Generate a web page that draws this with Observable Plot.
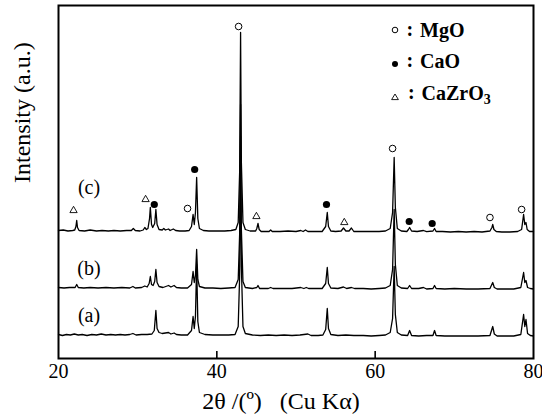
<!DOCTYPE html>
<html><head><meta charset="utf-8">
<script src="https://cdn.jsdelivr.net/npm/d3@7"></script>
<script src="https://cdn.jsdelivr.net/npm/@observablehq/plot@0.6"></script>
</head><body style="margin:0;padding:0;background:#fff">
<div id="wrap" style="position:relative;width:542px;height:420px;font-family:'Liberation Serif',serif;"></div>
<script>
// ---- data ----
const xTicks = [20, 40, 60, 80];
const innerTicks = [40, 60];
const traceNames = ["(a)", "(b)", "(c)"];
const traceOffsets = [22, 69, 126];

const traceA = [[20,2],[20.5,1],[21,2],[21.5,1.5],[22,2.5],[22.5,1.5],[23,2],[23.6,1],[24.2,2],[24.8,1.5],[25.4,2.5],[26,1.5],[26.6,2],[27.2,1.5],[27.8,2],[28.4,1.5],[29,2],[29.4,3],[29.8,1.5],[30.5,2],[31.2,2],[31.8,2.5],[32.1,6],[32.3,26],[32.45,8],[32.7,4],[33.1,3],[33.5,3.5],[33.9,4],[34.2,2.5],[34.6,3.5],[34.9,2],[35.5,1.5],[36.3,1.5],[36.8,6],[37,20],[37.15,8],[37.3,20],[37.45,72],[37.6,15],[37.8,4],[38.5,2],[39.5,1.5],[40.5,1.5],[41.5,1.5],[42.3,2],[42.7,10],[42.88,60],[43,200],[43.1,70],[43.3,10],[43.6,3],[44.5,1.5],[45.5,1],[46.5,1.5],[47.5,1],[48.5,1.5],[49.5,1],[50.5,1.5],[51.5,2.5],[51.9,1],[52.8,1],[53.4,1.5],[53.75,7],[53.95,28],[54.1,8],[54.4,2],[55.3,1],[56.3,1.5],[57.3,1],[58.5,1],[59.5,0.5],[60.5,1],[61.3,1.5],[61.9,4],[62.2,18],[62.4,70],[62.55,22],[62.8,4],[63.3,1.5],[64.1,1],[64.35,6],[64.6,1],[65.5,0.5],[66.5,1],[67.3,1],[67.5,6],[67.7,1],[68.8,0.5],[70,0.5],[71.5,0.5],[73,0.5],[74.5,1],[74.85,10],[75.05,2.5],[75.4,0.5],[76.5,0.5],[77.5,0.5],[78.4,2],[78.75,22],[78.9,10],[79.05,17],[79.25,3],[79.6,1],[80,0.5]];

const traceB = [[20,2],[20.7,1.5],[21.4,2],[22.1,2],[22.3,5],[22.5,2],[23.2,1.5],[24,2],[25,1.5],[26,2],[27,1.5],[28,2],[29,1.5],[29.4,3],[29.7,1.5],[30.5,2],[30.9,3.5],[31.2,2.5],[31.45,6],[31.6,13],[31.75,5],[31.95,4],[32.15,8],[32.3,20],[32.45,7],[32.7,3],[33.2,2],[33.9,4],[34.2,2.5],[34.6,4],[34.9,2],[35.5,1.5],[36.3,1.5],[36.8,5],[37,18],[37.15,7],[37.3,14],[37.45,40],[37.6,10],[37.8,3],[38.5,1.5],[39.5,1.5],[40.5,1],[41.5,1.5],[42.3,2],[42.7,10],[42.88,55],[43,185],[43.1,60],[43.3,8],[43.6,2],[44.5,1],[45.05,2],[45.2,4],[45.4,1],[46.5,1],[46.8,2],[47.1,1],[48.5,1],[49.5,1],[50.6,2],[51,1],[51.3,2],[51.6,1],[52.5,1],[53.3,1],[53.75,6],[53.95,22],[54.1,6],[54.4,1.5],[55.3,1],[56,2.5],[56.4,1],[57,2],[57.4,1],[58.5,1],[59.5,0.5],[60.5,1],[61.3,1.5],[61.9,4],[62.2,20],[62.4,80],[62.55,25],[62.8,4],[63.3,1.5],[64.1,1],[64.35,4],[64.6,1],[65.5,1],[66.1,2],[66.5,0.5],[67.3,1],[67.5,4],[67.7,1],[68.8,0.5],[70,1],[71.5,0.5],[73,0.5],[74.5,1],[74.85,7],[75.05,2],[75.4,0.5],[76.5,0.5],[77.5,0.5],[78.4,2],[78.75,17],[78.9,7],[79.05,9],[79.25,2],[79.6,1],[80,0.5]];

const traceC = [[20,2],[20.6,2.5],[21.2,1.5],[21.8,2],[22.05,2.5],[22.2,6],[22.3,12],[22.4,5],[22.6,2],[23.3,1.5],[24,2.5],[24.8,1.5],[25.5,2],[26.3,1.5],[27,2],[27.8,1.5],[28.6,2],[29.2,2],[29.45,4],[29.7,2],[30.3,1.5],[30.7,2.5],[30.9,5],[31.1,3],[31.3,4],[31.5,14],[31.6,25],[31.75,8],[31.9,5],[32.15,9],[32.3,23],[32.45,8],[32.7,3],[33.1,2.5],[33.3,4],[33.5,2.5],[33.9,3.5],[34.1,2],[34.5,3.5],[34.8,2],[35.3,1.5],[36,1.5],[36.5,2],[36.8,6],[37,18],[37.15,8],[37.3,20],[37.45,55],[37.6,14],[37.8,4],[38.3,2],[39,1.5],[40,1.5],[41,1.5],[41.8,2],[42.4,3],[42.7,10],[42.88,60],[43,200],[43.1,70],[43.3,10],[43.6,3],[44.2,1.5],[44.9,1.5],[45.05,4],[45.2,9],[45.35,3],[45.6,1],[46.6,1],[46.8,2.5],[47,1],[48,1],[49,1.5],[50,1],[50.6,2],[50.9,1],[51.2,2.5],[51.5,1],[52.5,1],[53.3,1],[53.75,6],[53.95,20],[54.1,6],[54.4,1.5],[55,1],[55.7,1.5],[56,4.5],[56.3,1.5],[56.7,1.5],[57,4.5],[57.3,1],[58.5,1],[59.5,1],[60.5,1],[61.3,1.5],[61.9,4],[62.2,20],[62.4,75],[62.55,25],[62.8,4],[63.3,1.5],[64,1],[64.2,3],[64.35,5],[64.6,1.5],[65.3,1],[66.1,2],[66.5,0.8],[67.3,1.5],[67.5,4],[67.7,1],[68.5,1],[69.5,0.5],[70.5,1],[71.5,0.5],[72.5,1],[73.5,0.5],[74.5,1.5],[74.75,5],[74.85,8],[75,3],[75.3,1],[76,0.5],[77,0.5],[78,1],[78.5,3],[78.75,18],[78.9,8],[79.05,10],[79.2,3],[79.5,1],[80,1]];

const markerTheta = [21.9, 31.0, 32.1, 36.3, 37.2, 42.75, 45.0, 53.85, 56.1, 62.2, 64.3, 67.2, 74.5, 78.5];
const markerLevel = [22, 33, 28, 24, 63, 206, 16, 28, 10, 84, 11, 9, 15, 23];
const markerPhase = ["CaZrO3","CaZrO3","CaO","MgO","CaO","MgO","CaZrO3","CaO","CaZrO3","MgO","CaO","CaO","MgO","MgO"];

const phaseNames = ["MgO", "CaO", "CaZrO3"];
const xTitle = "2θ /(º)   (Cu Kα)";
const yTitle = "Intensity (a.u.)";

// ---- build tables ----
const traceData = [traceA, traceB, traceC];
const rows = traceData.flatMap((pts, i) => pts.map(([t, v]) => ({trace: traceNames[i], theta: t, v: v + traceOffsets[i]})));
const topOffset = traceOffsets[2];
const markers = markerTheta.map((t, i) => ({theta: t, v: markerLevel[i] + topOffset, phase: markerPhase[i]}));
const labels = traceNames.map((n, i) => ({name: n, offset: traceOffsets[i]}));

const serifFamily = "Liberation Serif";

const chart = Plot.plot({
  width: 542, height: 420,
  marginLeft: 58, marginRight: 9, marginTop: 5, marginBottom: 62,
  x: {domain: [20, 80]},
  y: {domain: [0, 353], axis: null},
  style: {fontFamily: serifFamily, background: "white", color: "black"},
  marks: [
    Plot.line(rows, {x: "theta", y: "v", z: "trace", stroke: "black", strokeWidth: 1.3, strokeLinejoin: "round"}),
    Plot.dot(markers.filter(d => d.phase === "MgO"), {x: "theta", y: "v", r: 3.3, fill: "white", stroke: "black", strokeWidth: 1}),
    Plot.dot(markers.filter(d => d.phase === "CaO"), {x: "theta", y: "v", r: 3.6, fill: "black", stroke: "none"}),
    Plot.dot(markers.filter(d => d.phase === "CaZrO3"), {x: "theta", y: "v", r: 2.7, symbol: "triangle", fill: "white", stroke: "black", strokeWidth: 0.9}),
    Plot.text(labels, {x: () => 23.85, y: d => d.offset + (d.name === "(c)" ? 45 : 21), text: "name", fontSize: 20, textAnchor: "middle", lineAnchor: "middle", fill: "black", fontFamily: serifFamily}),
    Plot.frame({stroke: "black", strokeWidth: 2}),
    Plot.axisX({ticks: innerTicks, tickSize: -7, fill: "none", label: null, strokeWidth: 1.6}),
    Plot.axisX({ticks: xTicks, tickSize: 0, tickPadding: 5, fontSize: 20, label: null, tickFormat: d => String(d), fill: "black", fontFamily: serifFamily}),
    Plot.text([xTitle], {text: d => d, frameAnchor: "bottom", dy: 43, dx: -15, fontSize: 24, lineAnchor: "middle", fill: "black", fontFamily: serifFamily}),
    Plot.text([yTitle], {text: d => d, frameAnchor: "left", rotate: -90, dx: -36, dy: 1, fontSize: 24, lineAnchor: "middle", fill: "black", fontFamily: serifFamily})
  ]
});

const wrapEl = document.getElementById("wrap");
wrapEl.appendChild(chart);

// ---- legend as HTML overlay ----
const rowBase = [36.5, 68, 100];
const symY = [29.5, 64, 96.5];
const symbolSvg = {
  MgO: '<circle cx="5" cy="5" r="2.8" fill="white" stroke="black" stroke-width="1"/>',
  CaO: '<circle cx="5" cy="5" r="3" fill="black"/>',
  CaZrO3: '<path d="M5,2L8.4,7.6L1.6,7.6Z" fill="white" stroke="black" stroke-width="0.9"/>'
};
phaseNames.forEach((name, i) => {
  const sym = document.createElement("div");
  sym.setAttribute("style", `position:absolute;left:390px;top:${symY[i] - 5}px;width:10px;height:10px;line-height:0`);
  sym.innerHTML = `<svg width="10" height="10" viewBox="0 0 10 10">${symbolSvg[name]}</svg>`;
  wrapEl.appendChild(sym);
  const colon = document.createElement("div");
  colon.setAttribute("style", `position:absolute;left:${name === "CaZrO3" ? 408 : 406.5}px;top:${rowBase[i] - 18}px;font-family:'Liberation Serif',serif;font-size:20px;font-weight:bold;line-height:20px;white-space:nowrap`);
  colon.textContent = ":";
  wrapEl.appendChild(colon);
  const lab = document.createElement("div");
  lab.setAttribute("style", `position:absolute;left:${name === "CaZrO3" ? 421.5 : 420}px;top:${rowBase[i] - 17}px;font-family:'Liberation Serif',serif;font-size:20px;font-weight:bold;line-height:20px;white-space:nowrap`);
  if (name === "CaZrO3") {
    lab.innerHTML = 'CaZrO<span style="font-size:14px;position:relative;top:4px">3</span>';
  } else {
    lab.textContent = name;
  }
  wrapEl.appendChild(lab);
});
</script></body></html>
